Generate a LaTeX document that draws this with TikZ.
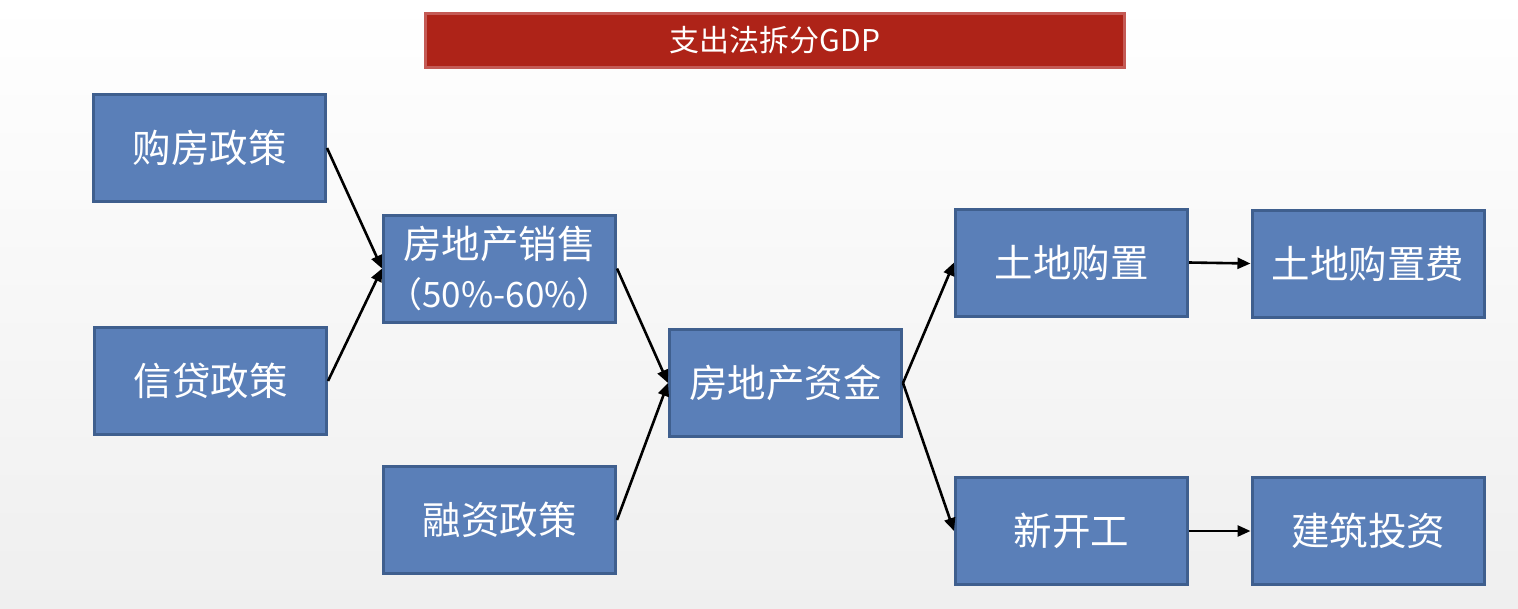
\documentclass[tikz,border=0pt]{standalone}
\usepackage{fontspec}
\newfontfamily\cjk{Noto Sans CJK SC}
\usetikzlibrary{arrows.meta}
\definecolor{boxfill}{HTML}{5A7FB8}
\definecolor{boxline}{HTML}{3F5F8E}
\definecolor{titlefill}{HTML}{AE2318}
\definecolor{titleline}{HTML}{C45A55}
\definecolor{bgtop}{HTML}{FFFFFF}
\definecolor{bgbot}{HTML}{EFEFEF}
\begin{document}
\begin{tikzpicture}[x=1pt,y=-1pt,
  bx/.style={draw=boxline, fill=boxfill, line width=3pt, minimum width=232pt, minimum height=107pt,
    text=white, font=\cjk\fontsize{38.5}{49}\selectfont, align=center, inner sep=0pt},
  titlebox/.style={draw=titleline, fill=titlefill, line width=3pt, minimum width=699pt, minimum height=54pt,
    text=white, font=\cjk\fontsize{30}{32}\selectfont, inner sep=0pt},
  arr/.style={draw=black, line width=2.6pt, -{Triangle[length=13pt,width=11pt]}}]
\shade[top color=bgtop, bottom color=bgbot] (0,0) rectangle (1518,608);
\useasboundingbox (0,0) rectangle (1518,608);
\node[titlebox] (title) at (775,40.5) {支出法拆分GDP};
\node[bx] (buy) at (209.5,148) {购房政策};
\node[bx] (credit) at (210.5,381) {信贷政策};
\node[bx, text width=228pt] (sales) at (499.5,268.5) {房地产销售\\{\fontsize{35}{49}\selectfont（50\%-60\%）}};
\node[bx] (fin) at (499.5,520) {融资政策};
\node[bx] (fund) at (785.5,383) {房地产资金};
\node[bx] (land) at (1071.5,262.5) {土地购置};
\node[bx] (newc) at (1071.5,531) {新开工};
\node[bx] (landfee) at (1368,263.5) {土地购置费};
\node[bx] (build) at (1368,531) {建筑投资};
\draw[arr] (buy.east) -- (sales.west);
\draw[arr] (credit.east) -- (sales.west);
\draw[arr] (sales.east) -- (fund.west);
\draw[arr] (fin.east) -- (fund.west);
\draw[arr] (fund.east) -- (land.west);
\draw[arr] (fund.east) -- (newc.west);
\draw[arr] (land.east) -- (landfee.west);
\draw[arr] (newc.east) -- (build.west);
\end{tikzpicture}
\end{document}
